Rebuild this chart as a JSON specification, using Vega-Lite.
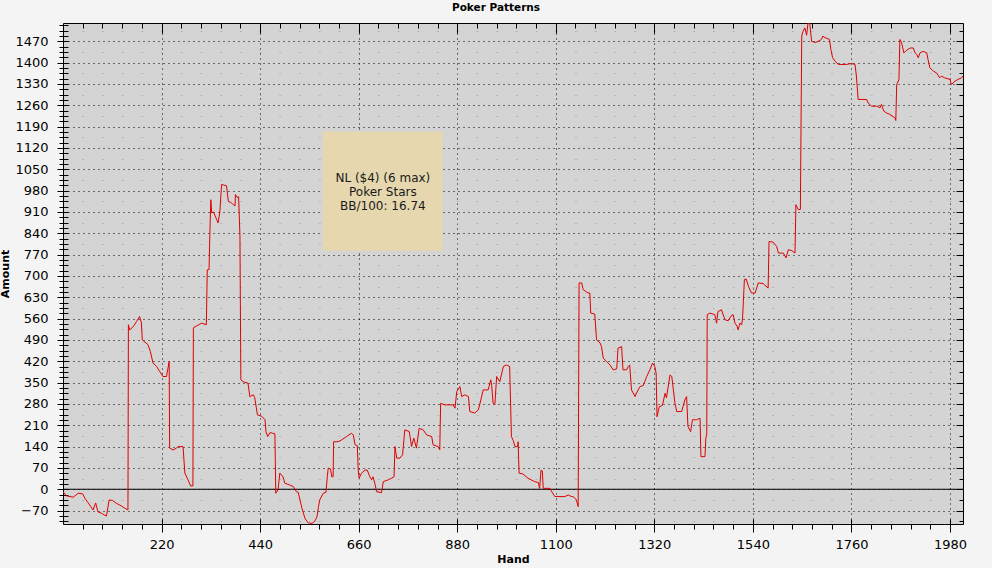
{
  "$schema": "https://vega.github.io/schema/vega-lite/v6.json",
  "width": 900,
  "height": 501,
  "autosize": "none",
  "padding": {"left": 63, "top": 23, "right": 29, "bottom": 44},
  "background": "#f4f4f4",
  "title": {"text": "Poker Patterns", "font": "DejaVu Sans", "fontSize": 10.5, "fontWeight": "bold", "color": "black", "anchor": "middle", "dx": -17, "offset": 9},
  "config": {
    "view": {"fill": "#d4d4d4", "stroke": "black", "strokeWidth": 1},
    "axis": {"labelFont": "DejaVu Sans", "labelFontSize": 13, "labelColor": "black", "tickColor": "black", "tickWidth": 1, "domain": false, "grid": false, "labels": false, "title": null, "titleFont": "DejaVu Sans", "titleFontSize": 11, "titleFontWeight": "bold", "titleColor": "black", "labelFlush": false, "labelOverlap": false, "format": "d"}
  },
  "resolve": {"axis": {"x": "independent", "y": "independent"}},
  "layer": [
    {
      "data": {"values": [{}]},
      "mark": {"type": "rule", "strokeOpacity": 0},
      "encoding": {
        "y": {"datum": 0, "type": "quantitative", "scale": {"domain": [-114, 1530], "nice": false, "zero": false},
          "axis": {"orient": "left", "offset": 0, "ticks": false, "values": [-105,-35,35,105,175,245,315,385,455,525,595,665,735,805,875,945,1015,1085,1155,1225,1295,1365,1435,1505], "grid": true, "gridColor": "#b4b4b4", "gridDash": [2, 17.71], "gridDashOffset": 1, "gridOpacity": 1}},
        "x": {"datum": 0, "type": "quantitative", "scale": {"domain": [0, 2009], "nice": false, "zero": false}, "axis": null}
      }
    },
    {
      "data": {"values": [{}]},
      "mark": {"type": "rect", "fill": "#e6d7ae"},
      "encoding": {
        "x": {"datum": 580, "type": "quantitative", "scale": {"domain": [0, 2009], "nice": false, "zero": false},
          "axis": {"orient": "bottom", "offset": 0, "tickSize": 5, "values": [44,88,132,176,220,264,308,352,396,440,484,528,572,616,660,704,748,792,836,880,924,968,1012,1056,1100,1144,1188,1232,1276,1320,1364,1408,1452,1496,1540,1584,1628,1672,1716,1760,1804,1848,1892,1936,1980]}},
        "x2": {"datum": 848},
        "y": {"datum": 1174, "type": "quantitative", "scale": {"domain": [-114, 1530], "nice": false, "zero": false},
          "axis": {"orient": "left", "offset": -5, "tickSize": 9, "values": [-105,-87.5,-70,-52.5,-35,-17.5,0,17.5,35,52.5,70,87.5,105,122.5,140,157.5,175,192.5,210,227.5,245,262.5,280,297.5,315,332.5,350,367.5,385,402.5,420,437.5,455,472.5,490,507.5,525,542.5,560,577.5,595,612.5,630,647.5,665,682.5,700,717.5,735,752.5,770,787.5,805,822.5,840,857.5,875,892.5,910,927.5,945,962.5,980,997.5,1015,1032.5,1050,1067.5,1085,1102.5,1120,1137.5,1155,1172.5,1190,1207.5,1225,1242.5,1260,1277.5,1295,1312.5,1330,1347.5,1365,1382.5,1400,1417.5,1435,1452.5,1470,1487.5,1505,1522.5]}},
        "y2": {"datum": 783}
      }
    },
    {
      "data": {"values": [{}]},
      "mark": {"type": "rule", "color": "black", "strokeWidth": 1},
      "encoding": {
        "x": {"datum": 0, "type": "quantitative", "scale": {"domain": [0, 2009], "nice": false, "zero": false},
          "axis": {"orient": "top", "offset": -10, "tickSize": 10, "values": [220,440,660,880,1100,1320,1540,1760,1980]}},
        "x2": {"datum": 2009},
        "y": {"datum": 0, "type": "quantitative", "scale": {"domain": [-114, 1530], "nice": false, "zero": false},
          "axis": {"orient": "right", "offset": -7, "tickSize": 7, "values": [-70,0,70,140,210,280,350,420,490,560,630,700,770,840,910,980,1050,1120,1190,1260,1330,1400,1470]}}
      }
    },
    {
      "data": {"values": [
        {"hand":0,"amount":-8},{"hand":8,"amount":-22},{"hand":23,"amount":-26},{"hand":34,"amount":-13},{"hand":44,"amount":-15},{"hand":49,"amount":-30},{"hand":56,"amount":-44},{"hand":67,"amount":-68},{"hand":73,"amount":-45},{"hand":78,"amount":-74},{"hand":86,"amount":-79},{"hand":97,"amount":-88},{"hand":103,"amount":-35},{"hand":111,"amount":-37},{"hand":119,"amount":-46},{"hand":127,"amount":-52},{"hand":138,"amount":-62},{"hand":145,"amount":-68},{"hand":146,"amount":540},{"hand":149,"amount":523},{"hand":157,"amount":534},{"hand":164,"amount":550},{"hand":171,"amount":567},{"hand":175,"amount":546},{"hand":177,"amount":490},{"hand":190,"amount":474},{"hand":195,"amount":452},{"hand":201,"amount":414},{"hand":209,"amount":403},{"hand":216,"amount":386},{"hand":223,"amount":370},{"hand":231,"amount":370},{"hand":237,"amount":419},{"hand":238,"amount":135},{"hand":246,"amount":129},{"hand":253,"amount":135},{"hand":257,"amount":140},{"hand":268,"amount":140},{"hand":272,"amount":53},{"hand":279,"amount":31},{"hand":285,"amount":11},{"hand":290,"amount":11},{"hand":291,"amount":530},{"hand":301,"amount":538},{"hand":309,"amount":545},{"hand":320,"amount":540},{"hand":322,"amount":720},{"hand":326,"amount":721},{"hand":328,"amount":852},{"hand":330,"amount":950},{"hand":332,"amount":907},{"hand":336,"amount":910},{"hand":343,"amount":885},{"hand":346,"amount":874},{"hand":350,"amount":907},{"hand":354,"amount":1000},{"hand":365,"amount":996},{"hand":369,"amount":945},{"hand":376,"amount":940},{"hand":380,"amount":934},{"hand":384,"amount":930},{"hand":385,"amount":967},{"hand":390,"amount":956},{"hand":392,"amount":960},{"hand":395,"amount":830},{"hand":397,"amount":359},{"hand":402,"amount":353},{"hand":413,"amount":348},{"hand":417,"amount":304},{"hand":425,"amount":310},{"hand":428,"amount":300},{"hand":434,"amount":244},{"hand":443,"amount":240},{"hand":451,"amount":228},{"hand":453,"amount":189},{"hand":457,"amount":173},{"hand":462,"amount":186},{"hand":467,"amount":184},{"hand":473,"amount":182},{"hand":475,"amount":-13},{"hand":480,"amount":-2},{"hand":484,"amount":53},{"hand":491,"amount":41},{"hand":495,"amount":20},{"hand":506,"amount":14},{"hand":514,"amount":9},{"hand":521,"amount":-8},{"hand":525,"amount":-10},{"hand":529,"amount":-35},{"hand":533,"amount":-60},{"hand":540,"amount":-95},{"hand":547,"amount":-110},{"hand":556,"amount":-112},{"hand":562,"amount":-105},{"hand":567,"amount":-90},{"hand":570,"amount":-60},{"hand":573,"amount":-35},{"hand":581,"amount":-13},{"hand":587,"amount":-10},{"hand":590,"amount":41},{"hand":592,"amount":69},{"hand":597,"amount":67},{"hand":600,"amount":41},{"hand":603,"amount":41},{"hand":604,"amount":156},{"hand":614,"amount":156},{"hand":622,"amount":162},{"hand":633,"amount":173},{"hand":644,"amount":184},{"hand":648,"amount":178},{"hand":652,"amount":146},{"hand":657,"amount":143},{"hand":659,"amount":63},{"hand":661,"amount":36},{"hand":666,"amount":52},{"hand":674,"amount":63},{"hand":679,"amount":63},{"hand":685,"amount":41},{"hand":689,"amount":31},{"hand":692,"amount":41},{"hand":696,"amount":20},{"hand":700,"amount":-8},{"hand":711,"amount":-11},{"hand":715,"amount":25},{"hand":726,"amount":31},{"hand":733,"amount":36},{"hand":739,"amount":41},{"hand":741,"amount":140},{"hand":745,"amount":102},{"hand":752,"amount":102},{"hand":758,"amount":113},{"hand":763,"amount":195},{"hand":773,"amount":189},{"hand":778,"amount":140},{"hand":783,"amount":168},{"hand":789,"amount":135},{"hand":795,"amount":200},{"hand":804,"amount":195},{"hand":812,"amount":178},{"hand":823,"amount":173},{"hand":826,"amount":146},{"hand":837,"amount":140},{"hand":841,"amount":129},{"hand":843,"amount":282},{"hand":852,"amount":277},{"hand":871,"amount":277},{"hand":875,"amount":266},{"hand":879,"amount":321},{"hand":886,"amount":337},{"hand":890,"amount":304},{"hand":897,"amount":310},{"hand":905,"amount":304},{"hand":908,"amount":255},{"hand":919,"amount":250},{"hand":927,"amount":260},{"hand":930,"amount":277},{"hand":938,"amount":326},{"hand":949,"amount":326},{"hand":955,"amount":359},{"hand":957,"amount":340},{"hand":960,"amount":282},{"hand":964,"amount":277},{"hand":968,"amount":370},{"hand":975,"amount":353},{"hand":983,"amount":403},{"hand":990,"amount":408},{"hand":997,"amount":403},{"hand":1001,"amount":173},{"hand":1005,"amount":160},{"hand":1009,"amount":140},{"hand":1015,"amount":140},{"hand":1016,"amount":156},{"hand":1018,"amount":53},{"hand":1027,"amount":50},{"hand":1038,"amount":36},{"hand":1053,"amount":25},{"hand":1061,"amount":22},{"hand":1064,"amount":3},{"hand":1067,"amount":63},{"hand":1070,"amount":60},{"hand":1072,"amount":3},{"hand":1087,"amount":3},{"hand":1091,"amount":-8},{"hand":1098,"amount":-24},{"hand":1120,"amount":-24},{"hand":1128,"amount":-19},{"hand":1135,"amount":-24},{"hand":1139,"amount":-24},{"hand":1146,"amount":-35},{"hand":1150,"amount":-57},{"hand":1152,"amount":677},{"hand":1158,"amount":677},{"hand":1161,"amount":655},{"hand":1172,"amount":644},{"hand":1176,"amount":644},{"hand":1178,"amount":578},{"hand":1187,"amount":575},{"hand":1191,"amount":490},{"hand":1199,"amount":480},{"hand":1202,"amount":468},{"hand":1206,"amount":430},{"hand":1213,"amount":420},{"hand":1221,"amount":408},{"hand":1228,"amount":392},{"hand":1236,"amount":395},{"hand":1239,"amount":463},{"hand":1247,"amount":468},{"hand":1250,"amount":392},{"hand":1258,"amount":392},{"hand":1262,"amount":403},{"hand":1265,"amount":408},{"hand":1269,"amount":326},{"hand":1277,"amount":304},{"hand":1280,"amount":315},{"hand":1288,"amount":337},{"hand":1295,"amount":340},{"hand":1303,"amount":370},{"hand":1310,"amount":392},{"hand":1316,"amount":414},{"hand":1321,"amount":403},{"hand":1324,"amount":381},{"hand":1326,"amount":238},{"hand":1331,"amount":271},{"hand":1338,"amount":275},{"hand":1344,"amount":315},{"hand":1347,"amount":300},{"hand":1355,"amount":375},{"hand":1359,"amount":370},{"hand":1366,"amount":282},{"hand":1370,"amount":255},{"hand":1381,"amount":255},{"hand":1388,"amount":293},{"hand":1392,"amount":304},{"hand":1395,"amount":206},{"hand":1401,"amount":189},{"hand":1405,"amount":228},{"hand":1414,"amount":228},{"hand":1422,"amount":233},{"hand":1424,"amount":107},{"hand":1433,"amount":107},{"hand":1435,"amount":168},{"hand":1437,"amount":180},{"hand":1438,"amount":573},{"hand":1444,"amount":578},{"hand":1455,"amount":573},{"hand":1459,"amount":545},{"hand":1462,"amount":583},{"hand":1470,"amount":589},{"hand":1473,"amount":575},{"hand":1478,"amount":556},{"hand":1485,"amount":553},{"hand":1492,"amount":570},{"hand":1496,"amount":573},{"hand":1500,"amount":545},{"hand":1505,"amount":534},{"hand":1507,"amount":523},{"hand":1511,"amount":545},{"hand":1515,"amount":540},{"hand":1517,"amount":562},{"hand":1521,"amount":688},{"hand":1525,"amount":690},{"hand":1530,"amount":666},{"hand":1537,"amount":644},{"hand":1545,"amount":644},{"hand":1552,"amount":677},{"hand":1563,"amount":675},{"hand":1574,"amount":660},{"hand":1576,"amount":813},{"hand":1585,"amount":811},{"hand":1593,"amount":797},{"hand":1597,"amount":775},{"hand":1608,"amount":775},{"hand":1614,"amount":759},{"hand":1619,"amount":786},{"hand":1627,"amount":783},{"hand":1634,"amount":775},{"hand":1636,"amount":934},{"hand":1641,"amount":918},{"hand":1646,"amount":918},{"hand":1649,"amount":1487},{"hand":1652,"amount":1503},{"hand":1656,"amount":1514},{"hand":1660,"amount":1490},{"hand":1663,"amount":1530},{"hand":1667,"amount":1528},{"hand":1671,"amount":1470},{"hand":1679,"amount":1466},{"hand":1686,"amount":1470},{"hand":1693,"amount":1476},{"hand":1696,"amount":1487},{"hand":1701,"amount":1482},{"hand":1711,"amount":1476},{"hand":1714,"amount":1443},{"hand":1718,"amount":1416},{"hand":1723,"amount":1405},{"hand":1731,"amount":1394},{"hand":1749,"amount":1394},{"hand":1760,"amount":1397},{"hand":1768,"amount":1394},{"hand":1771,"amount":1356},{"hand":1775,"amount":1279},{"hand":1794,"amount":1279},{"hand":1797,"amount":1268},{"hand":1805,"amount":1257},{"hand":1816,"amount":1257},{"hand":1824,"amount":1252},{"hand":1827,"amount":1263},{"hand":1832,"amount":1241},{"hand":1838,"amount":1235},{"hand":1846,"amount":1230},{"hand":1857,"amount":1219},{"hand":1859,"amount":1210},{"hand":1861,"amount":1328},{"hand":1866,"amount":1344},{"hand":1868,"amount":1476},{"hand":1872,"amount":1465},{"hand":1877,"amount":1432},{"hand":1883,"amount":1440},{"hand":1891,"amount":1448},{"hand":1898,"amount":1448},{"hand":1902,"amount":1432},{"hand":1906,"amount":1426},{"hand":1909,"amount":1416},{"hand":1913,"amount":1432},{"hand":1920,"amount":1437},{"hand":1928,"amount":1432},{"hand":1931,"amount":1410},{"hand":1935,"amount":1383},{"hand":1943,"amount":1372},{"hand":1950,"amount":1366},{"hand":1957,"amount":1350},{"hand":1961,"amount":1356},{"hand":1968,"amount":1350},{"hand":1980,"amount":1345},{"hand":1983,"amount":1328},{"hand":1991,"amount":1339},{"hand":1998,"amount":1345},{"hand":2006,"amount":1350},{"hand":2009,"amount":1356}
      ]},
      "mark": {"type": "line", "color": "#e00000", "strokeWidth": 1, "clip": true},
      "encoding": {
        "x": {"field": "hand", "type": "quantitative", "scale": {"domain": [0, 2009], "nice": false, "zero": false},
          "axis": {"orient": "bottom", "offset": -5, "tickSize": 13, "labels": true, "labelPadding": 6, "values": [220,440,660,880,1100,1320,1540,1760,1980], "grid": true, "gridColor": "black", "gridDash": [1, 4], "gridOpacity": 1, "title": "Hand", "titlePadding": 2}},
        "y": {"field": "amount", "type": "quantitative", "scale": {"domain": [-114, 1530], "nice": false, "zero": false},
          "axis": {"orient": "left", "offset": -5, "tickSize": 11, "labels": true, "labelPadding": 9, "values": [-70,0,70,140,210,280,350,420,490,560,630,700,770,840,910,980,1050,1120,1190,1260,1330,1400,1470], "grid": true, "gridColor": "black", "gridDash": [1, 4], "gridOpacity": 1, "title": "Amount", "titlePadding": 4}}
      }
    },
    {
      "data": {"values": [{}]},
      "mark": {"type": "text", "text": ["NL ($4) (6 max)", "Poker Stars", "BB/100: 16.74"], "font": "DejaVu Sans", "fontSize": 12, "lineHeight": 14, "color": "#1a1a1a", "align": "center", "baseline": "middle"},
      "encoding": {
        "x": {"datum": 714, "type": "quantitative", "scale": {"domain": [0, 2009], "nice": false, "zero": false},
          "axis": {"orient": "top", "offset": -5, "tickSize": 5, "values": [44,88,132,176,264,308,352,396,484,528,572,616,704,748,792,836,924,968,1012,1056,1144,1188,1232,1276,1364,1408,1452,1496,1584,1628,1672,1716,1804,1848,1892,1936]}},
        "y": {"datum": 1022, "type": "quantitative", "scale": {"domain": [-114, 1530], "nice": false, "zero": false},
          "axis": {"orient": "right", "offset": -4, "tickSize": 4, "values": [-105,-35,35,105,175,245,315,385,455,525,595,665,735,805,875,945,1015,1085,1155,1225,1295,1365,1435,1505]}}
      }
    }
  ]
}
